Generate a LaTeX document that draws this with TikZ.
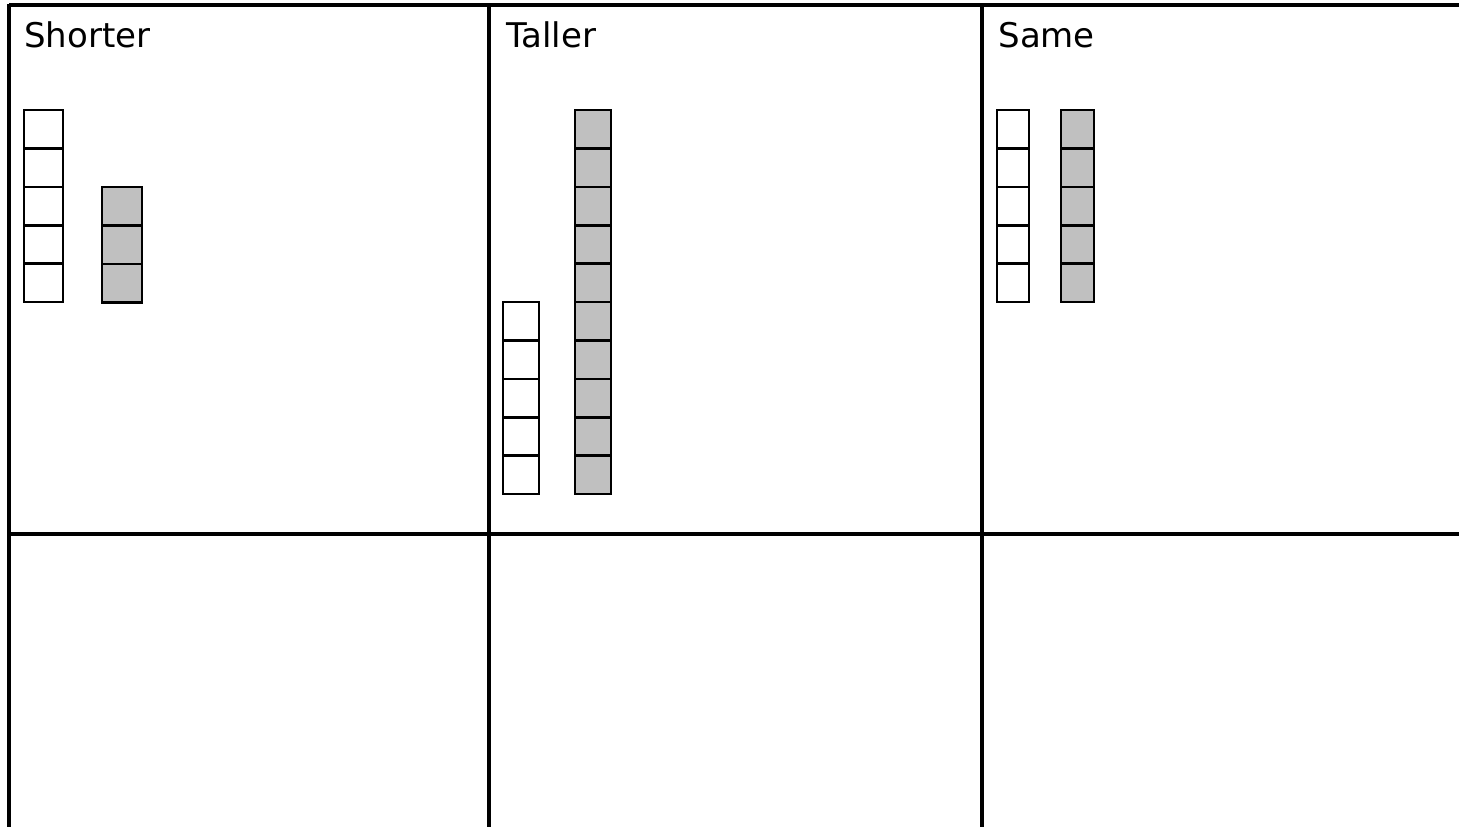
\documentclass[tikz,border=0pt]{standalone}
\usepackage{fontspec}
\setmainfont{DejaVu Sans}
\definecolor{cubegray}{HTML}{C0C0C0}
\begin{document}
\begin{tikzpicture}[x=0.5pt,y=-0.5pt,
  gridline/.style={line width=1.8pt},
  cube/.style={draw, line width=1.3pt, fill=white},
  graycube/.style={cube, fill=cubegray},
  heading/.style={anchor=base west, inner sep=0pt, font=\fontsize{17}{20}\selectfont}]
\useasboundingbox (0,0) rectangle (1459,827);
% grid
\draw[gridline] (9,5) -- (1459,5);
\draw[gridline] (9,4) -- (9,827);
\draw[gridline] (489,5) -- (489,827);
\draw[gridline] (982,5) -- (982,827);
\draw[gridline] (9,534) -- (1459,534);
% headings
\node[heading] (shorter) at (24,47) {Shorter};
\node[heading] (taller) at (506,47) {Taller};
\node[heading] (same) at (998,47) {Same};
% Shorter panel
\foreach \i in {0,...,4} \draw[cube] (24,{110+38.4*\i}) rectangle ++(39,38.4);
\foreach \i in {0,...,2} \draw[graycube] (102,{187+38.4*\i}) rectangle ++(40,38.4);
% Taller panel
\foreach \i in {0,...,4} \draw[cube] (503,{302+38.4*\i}) rectangle ++(36,38.4);
\foreach \i in {0,...,9} \draw[graycube] (575,{110+38.4*\i}) rectangle ++(36,38.4);
% Same panel
\foreach \i in {0,...,4} \draw[cube] (997,{110+38.4*\i}) rectangle ++(32,38.4);
\foreach \i in {0,...,4} \draw[graycube] (1061,{110+38.4*\i}) rectangle ++(33,38.4);
\end{tikzpicture}
\end{document}
